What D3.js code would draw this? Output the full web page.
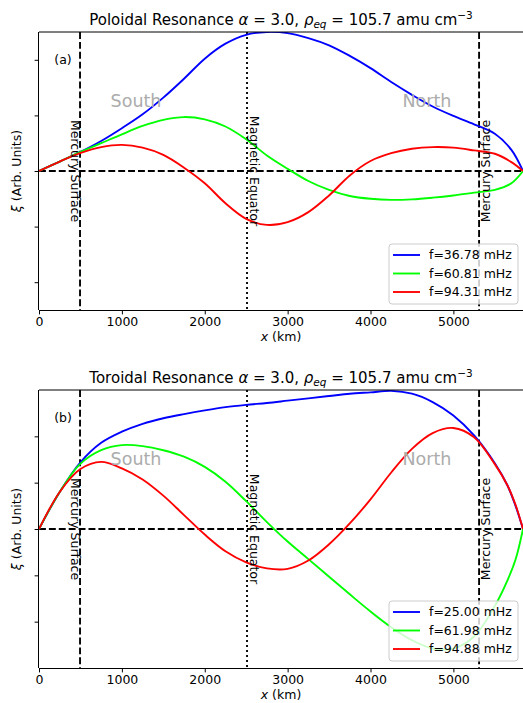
<!DOCTYPE html>
<html>
<head>
<meta charset="utf-8">
<script src="https://cdn.jsdelivr.net/npm/d3@7"></script>
<style>
  body { margin: 0; background: #fff; }
  svg { display: block; font-family: "DejaVu Sans", sans-serif; }
</style>
</head>
<body>
<div id="chart"></div>
<script>
// x positions along the field line (km)
const xTop = [0, 250, 495, 750, 1000, 1250, 1500, 1750, 2000, 2250, 2500, 2750, 3000, 3250, 3500, 3750, 4000, 4250, 4500, 4750, 5000, 5250, 5500, 5700, 5840];
const polBlue  = [0, 0.17, 0.34, 0.54, 0.77, 1.02, 1.32, 1.66, 2.02, 2.29, 2.45, 2.5, 2.48, 2.39, 2.26, 2.07, 1.85, 1.6, 1.37, 1.16, 0.99, 0.84, 0.67, 0.38, 0];
const polGreen = [0, 0.17, 0.34, 0.5, 0.66, 0.81, 0.92, 0.97, 0.93, 0.8, 0.57, 0.28, 0.04, -0.18, -0.34, -0.45, -0.5, -0.52, -0.51, -0.48, -0.44, -0.39, -0.34, -0.22, 0];
const polRed   = [0, 0.17, 0.32, 0.43, 0.47, 0.42, 0.29, 0.06, -0.22, -0.58, -0.86, -0.97, -0.92, -0.74, -0.44, -0.08, 0.18, 0.32, 0.4, 0.43, 0.42, 0.37, 0.31, 0.16, 0];

const xBot = [0, 250, 495, 750, 1000, 1250, 1500, 1750, 2000, 2250, 2500, 2750, 3000, 3250, 3500, 3750, 4000, 4250, 4500, 4750, 5000, 5250, 5500, 5650, 5750, 5840];
const torBlue  = [0, 0.8, 1.43, 1.86, 2.1, 2.27, 2.39, 2.48, 2.56, 2.63, 2.68, 2.72, 2.77, 2.82, 2.87, 2.92, 2.95, 2.98, 2.92, 2.74, 2.45, 2.02, 1.42, 0.95, 0.5, 0];
const torGreen = [0, 0.8, 1.4, 1.7, 1.81, 1.79, 1.7, 1.56, 1.34, 1.02, 0.6, 0.15, -0.27, -0.65, -1.03, -1.41, -1.78, -2.12, -2.4, -2.58, -2.58, -2.32, -1.66, -1.12, -0.66, 0];
const torRed   = [0, 0.8, 1.29, 1.45, 1.31, 1.07, 0.72, 0.3, -0.12, -0.48, -0.72, -0.85, -0.86, -0.68, -0.33, 0.12, 0.64, 1.22, 1.73, 2.07, 2.18, 1.98, 1.4, 0.95, 0.52, 0];

const polFreqs = ["f=36.78 mHz", "f=60.81 mHz", "f=94.31 mHz"];
const torFreqs = ["f=25.00 mHz", "f=61.98 mHz", "f=94.88 mHz"];
const colors = ["#0000ff", "#00ff00", "#ff0000"];

const xTicks = [0, 1000, 2000, 3000, 4000, 5000];
const surfaceKm = [495, 5310];
const equatorKm = 2510;

const W = 523, H = 703;
const FS = 12.5;   // base font size
const LW = 1.875;  // curve width
const svg = d3.select("#chart").append("svg").attr("width", W).attr("height", H);

const x = d3.scaleLinear().domain([0, 5840]).range([39, 523]);

const panels = [
  { name: "Poloidal", tag: "(a)", top: 32, bottom: 310, ymax: 2.5, ticks: [-2, -1, 0, 1, 2],
    xs: xTop, series: [polBlue, polGreen, polRed], freqs: polFreqs, legendY: 244 },
  { name: "Toroidal", tag: "(b)", top: 390, bottom: 668, ymax: 3, ticks: [-2, -1, 0, 1, 2],
    xs: xBot, series: [torBlue, torGreen, torRed], freqs: torFreqs, legendY: 601 }
];

panels.forEach((p, pi) => {
  const y = d3.scaleLinear().domain([-p.ymax, p.ymax]).range([p.bottom, p.top]);
  const g = svg.append("g");
  const y0 = y(0);

  g.append("clipPath").attr("id", "clip" + pi)
    .append("rect").attr("x", 39).attr("y", p.top).attr("width", 523 - 39).attr("height", p.bottom - p.top);

  // reference lines
  g.append("line").attr("x1", 39).attr("x2", 523).attr("y1", y0).attr("y2", y0)
    .attr("stroke", "#000").attr("stroke-width", LW).attr("stroke-dasharray", "6.9,3");
  surfaceKm.forEach(k => {
    g.append("line").attr("x1", x(k)).attr("x2", x(k)).attr("y1", p.top).attr("y2", p.bottom)
      .attr("stroke", "#000").attr("stroke-width", LW).attr("stroke-dasharray", "6.9,3");
  });
  g.append("line").attr("x1", x(equatorKm)).attr("x2", x(equatorKm)).attr("y1", p.top).attr("y2", p.bottom)
    .attr("stroke", "#000").attr("stroke-width", LW).attr("stroke-dasharray", "1.9,3.1");

  // curves
  const line = d3.line().x(d => x(d[0])).y(d => y(d[1])).curve(d3.curveCatmullRom.alpha(0.5));
  p.series.forEach((s, i) => {
    g.append("path")
      .datum(p.xs.map((k, j) => [k, s[j]]))
      .attr("d", line)
      .attr("clip-path", "url(#clip" + pi + ")")
      .attr("fill", "none").attr("stroke", colors[i]).attr("stroke-width", LW);
  });

  // rotated labels
  const vtext = (cx, label, rot) => g.append("text")
    .attr("transform", `translate(${cx},${y0}) rotate(${rot})`)
    .attr("text-anchor", "middle").attr("dy", "0.32em")
    .attr("font-size", FS).attr("fill", "#000").text(label);
  vtext(75, "Mercury Surface", 90);
  vtext(253.5, "Magnetic Equator", 90);
  vtext(486, "Mercury Surface", -90);

  // hemispheres
  const hemiY = p.top + 75;
  g.append("text").attr("x", 136).attr("y", hemiY).attr("text-anchor", "middle")
    .attr("font-size", 17.5).attr("fill", "#acacac").text("South");
  g.append("text").attr("x", 427).attr("y", hemiY).attr("text-anchor", "middle")
    .attr("font-size", 17.5).attr("fill", "#acacac").text("North");
  g.append("text").attr("x", 63).attr("y", p.top + 32).attr("text-anchor", "middle")
    .attr("font-size", FS).attr("fill", "#000").text(p.tag);

  // spines and axes
  g.append("line").attr("x1", 39).attr("x2", 523).attr("y1", p.top).attr("y2", p.top)
    .attr("stroke", "#000").attr("stroke-width", 1);
  const xAxis = g.append("g").attr("transform", `translate(0,${p.bottom})`)
    .call(d3.axisBottom(x).tickValues(xTicks).tickSize(4.4).tickPadding(3).tickFormat(d3.format("d")));
  xAxis.select(".domain").attr("d", "M39,0.5H523").attr("stroke-width", 1);
  xAxis.selectAll("text").attr("font-size", FS).attr("font-family", "DejaVu Sans");
  const yAxis = g.append("g").attr("transform", "translate(39,0)")
    .call(d3.axisLeft(y).tickValues(p.ticks).tickSize(4.4).tickFormat(""));
  yAxis.select(".domain").attr("d", `M-0.5,${p.top}V${p.bottom}`).attr("stroke-width", 1);

  // axis labels
  const xl = g.append("text").attr("x", 281).attr("y", p.bottom + 31).attr("text-anchor", "middle")
    .attr("font-size", FS);
  xl.append("tspan").attr("font-style", "italic").text("x");
  xl.append("tspan").text(" (km)");
  const yl = g.append("text").attr("transform", `translate(17,${y0}) rotate(-90)`)
    .attr("text-anchor", "middle").attr("dy", "0.32em").attr("font-size", FS);
  yl.append("tspan").attr("font-style", "italic").text("ξ");
  yl.append("tspan").text(" (Arb. Units)");

  // title
  const t = g.append("text").attr("x", 281).attr("y", p.top - 7).attr("text-anchor", "middle")
    .attr("font-size", 15);
  t.append("tspan").text(p.name + " Resonance ");
  t.append("tspan").attr("font-style", "italic").text("α");
  t.append("tspan").text(" = 3.0, ");
  t.append("tspan").attr("font-style", "italic").text("ρ");
  t.append("tspan").attr("font-style", "italic").attr("font-size", 10.5).attr("dy", 3).text("eq");
  t.append("tspan").attr("dy", -3).text(" = 105.7 amu cm");
  t.append("tspan").attr("font-size", 10.5).attr("dy", -6).text("−3");

  // legend
  const lg = g.append("g").attr("transform", `translate(389,${p.legendY})`);
  lg.append("rect").attr("width", 129).attr("height", 60).attr("rx", 3)
    .attr("fill", "#fff").attr("fill-opacity", 0.8).attr("stroke", "#cccccc");
  p.freqs.forEach((f, i) => {
    const ry = 11 + i * 18.5;
    lg.append("line").attr("x1", 4).attr("x2", 31).attr("y1", ry).attr("y2", ry)
      .attr("stroke", colors[i]).attr("stroke-width", LW);
    lg.append("text").attr("x", 40).attr("y", ry).attr("dy", "0.35em")
      .attr("font-size", FS).text(f);
  });
});
</script>
</body>
</html>
